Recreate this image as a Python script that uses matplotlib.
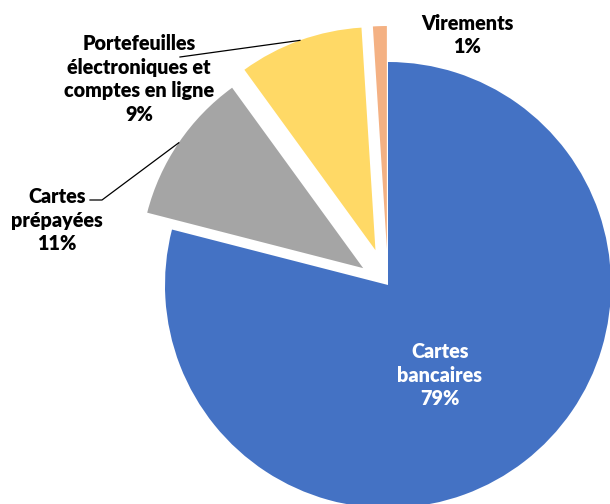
import numpy as np
import matplotlib.pyplot as plt

categories = ["Cartes\nbancaires", "Cartes\nprépayées",
              "Portefeuilles\nélectroniques et\ncomptes en ligne", "Virements"]
shares = [79, 11, 9, 1]
colors = ["#4472C4", "#A5A5A5", "#FFD966", "#F4B183"]

W, H = 610, 504
fig = plt.figure(figsize=(W / 100, H / 100), dpi=100, facecolor="white")
ax = fig.add_axes([0, 0, 1, 1])

# pie drawn in pixel units (y up)
cx, cy, R = 388, H - 285, 223
explode = [0, 30, 37, 36]
wedges, _ = ax.pie(shares, colors=colors, startangle=90, counterclock=False,
                   center=(cx, cy), radius=R, explode=explode,
                   wedgeprops=dict(linewidth=0))
ax.set_xlim(0, W)
ax.set_ylim(0, H)
ax.set_aspect("equal")
ax.axis("off")

font = dict(family="Lato", fontweight="heavy", fontsize=14.2, linespacing=1.3)

def arc_mid(w):
    t = np.deg2rad((w.theta1 + w.theta2) / 2)
    return w.center[0] + w.r * np.cos(t), w.center[1] + w.r * np.sin(t)

# Cartes bancaires inside
ax.text(440, H - 375, f"{categories[0]}\n{shares[0]}%", color="white",
        ha="center", va="center", **font)

# Cartes prepayees with leader
ax.text(57, H - 220, f"{categories[1]}\n{shares[1]}%", ha="center", va="center", **font)
px, py = arc_mid(wedges[1])
ax.plot([90, 102, px], [H - 200, H - 200, py], color="black", lw=0.9)

# Portefeuilles with leader
ax.text(139, H - 79, f"{categories[2]}\n{shares[2]}%", ha="center", va="center", **font)
px, py = arc_mid(wedges[2])
ax.plot([180, px], [H - 57, py], color="black", lw=0.9)

# Virements
ax.text(467, H - 35, f"{categories[3]}\n{shares[3]}%", ha="center", va="center", **font)

fig.savefig("out.png", dpi=100, facecolor="white")
